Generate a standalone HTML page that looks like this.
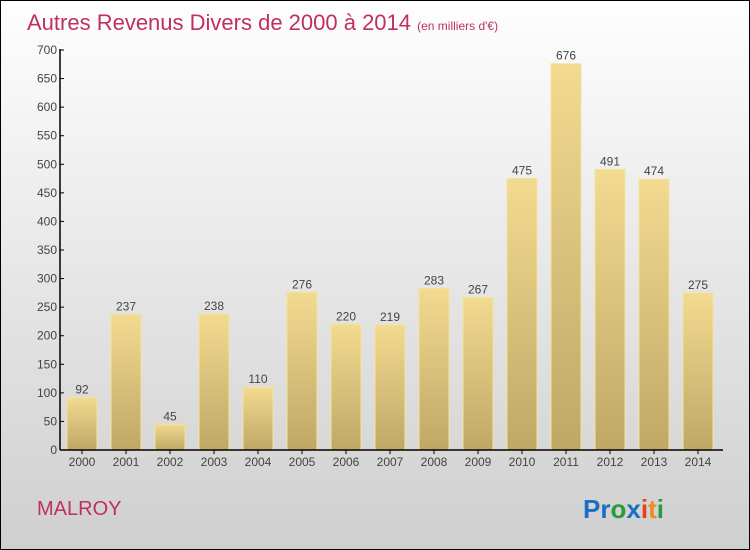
<!DOCTYPE html>
<html><head><meta charset="utf-8"><style>
body{margin:0}
#wrap{position:relative;width:748px;height:548px;border:1px solid #000;background:linear-gradient(#fefefe,#cfcfcf);font-family:"Liberation Sans",sans-serif;overflow:hidden}
</style></head><body>
<div id="wrap">
<svg id="chart" width="748" height="548">
<defs><linearGradient id="bg" x1="0" y1="0" x2="0" y2="1"><stop offset="0" stop-color="#f2da90"/><stop offset="1" stop-color="#bfa866"/></linearGradient></defs>
<text x="26" y="29" font-size="22" fill="#c0305f">Autres Revenus Divers de 2000 à 2014 <tspan font-size="12">(en milliers d'€)</tspan></text>
<text x="36" y="514" font-size="20" fill="#c0305f">MALROY</text>
<text x="582" y="517" font-size="26" font-weight="bold"><tspan fill="#1a6fc4">Pr</tspan><tspan fill="#2a9a3a">o</tspan><tspan fill="#1a6fc4">x</tspan><tspan fill="#e8401c">i</tspan><tspan fill="#f08a1c">t</tspan><tspan fill="#2a9a3a">i</tspan></text>
<g id="plot"></g>
</svg>
</div>
<script>
const categories=["2000","2001","2002","2003","2004","2005","2006","2007","2008","2009","2010","2011","2012","2013","2014"];
const values=[92,237,45,238,110,276,220,219,283,267,475,676,491,474,275];
const yTicks=[0,50,100,150,200,250,300,350,400,450,500,550,600,650,700];
const NS="http://www.w3.org/2000/svg";
const g=document.getElementById('plot');
const y0=449,ppu=400/700,x0=59,step=44;
const y=v=>y0-v*ppu, xc=i=>x0+22+i*step;
function mk(t,a){const e=document.createElementNS(NS,t);for(const k in a)e.setAttribute(k,a[k]);g.appendChild(e);return e;}
values.forEach((v,i)=>{
 const r=mk('rect',{x:xc(i)-15,y:y(v),width:30,height:y0-y(v),fill:'url(#bg)',stroke:'#f5e39c','stroke-width':1});
 
 
 const t=mk('text',{x:xc(i),y:y(v)-4,'text-anchor':'middle','font-size':12,fill:'#444'});t.textContent=v;
 
 
 const c=mk('text',{x:xc(i),y:y0+16,'text-anchor':'middle','font-size':12,fill:'#444'});c.textContent=categories[i];
 
 
 mk('line',{x1:xc(i),x2:xc(i),y1:y0,y2:y0+4,stroke:'#000'});
});
yTicks.forEach(v=>{
 mk('line',{x1:x0,x2:x0+4,y1:y(v),y2:y(v),stroke:'#000'});
 const t=mk('text',{x:x0-3,y:y(v)+4,'text-anchor':'end','font-size':12,fill:'#444'});t.textContent=v;
 
 
});
const ya=mk('line',{x1:x0,x2:x0,y1:y(700)-1,y2:y0,stroke:'#000','stroke-width':1.5});


const xa=mk('line',{x1:x0,x2:722,y1:y0,y2:y0,stroke:'#000','stroke-width':1.5});


</script>
</body></html>
